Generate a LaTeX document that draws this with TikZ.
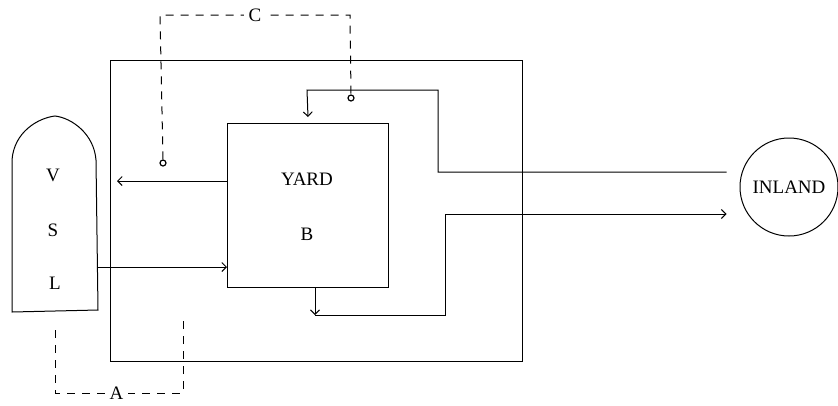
\documentclass[tikz,border=0pt]{standalone}
\usepackage{fontspec}
\setmainfont{Liberation Serif}
\usepackage{tikz}
\usetikzlibrary{arrows.meta,positioning,calc}
\tikzset{
  wall/.style={draw, line width=1pt, inner sep=0pt},
  flow/.style={-{Straight Barb[length=4.5pt, width=9pt]}, line width=1pt},
  ctrl/.style={line width=1pt, dash pattern=on 8pt off 7pt},
  tap/.style={circle, draw, line width=1.2pt, inner sep=0pt, minimum size=6pt, fill=white},
  lbl/.style={font=\fontsize{19}{22}\selectfont, inner sep=1pt},
  gap/.style={lbl, fill=white, inner sep=5pt}
}
\begin{document}
\begin{tikzpicture}[x=1pt, y=-1pt]
        \useasboundingbox (0,0) rectangle (838,405);
        % terminal area and yard
        \node[wall, minimum width=412pt, minimum height=301pt, anchor=north west] (port) at (110,60) {};
        \node[wall, minimum width=161pt, minimum height=164pt, anchor=north west] (yard) at (227,123) {};
        \node[lbl] (yardtxt) at (307,179) {YARD};
        \node[lbl, below=55pt of yardtxt.center, anchor=center] (btxt) {B};
        % inland
        \node[wall, circle, minimum size=98pt, lbl] (inland) at (789,187) {INLAND};
        % vessel
        \draw[line width=1pt] (12,312) -- (12,160) .. controls (14,132) and (38,118) .. (55,116)
              .. controls (72,118) and (94,134) .. (96,160) -- (98,310) -- cycle;
        \node[lbl] (vtxt) at (53,175) {V};
        \node[lbl] (stxt) at (53,230) {S};
        \node[lbl] (ltxt) at (55,283) {L};
        \coordinate (vslR) at (98,267);
        % taps
        \node[tap] (tapL) at (163,163) {};
        \node[tap] (tapR) at (351,98) {};
        % flows
        \draw[flow] (yard.west |- 0,181) -- (117,181);
        \draw[flow] (vslR) -- (yard.west |- vslR);
        \draw[flow] ($(inland.west |- 0,172)+(-13,0)$) -- (438,172) |- (307,90) -- ([yshift=6pt]yard.north);
        \draw[flow] (yard.south -| 315,0) -- (315,315);
        \draw[flow, shorten >=13pt] (315,315) -- (445,315) |- (inland.west |- 0,214);
        % control loops
        \draw[ctrl] (tapL.north) -- (160,15) -- (350,15) node[midway, gap] (ctxt) {C} -- (tapR.north);
        \draw[ctrl] (55,330) -- (55,393) -- (183,393) node[pos=0.48, gap] (atxt) {A} -- (183,320);
      \end{tikzpicture}
\end{document}
